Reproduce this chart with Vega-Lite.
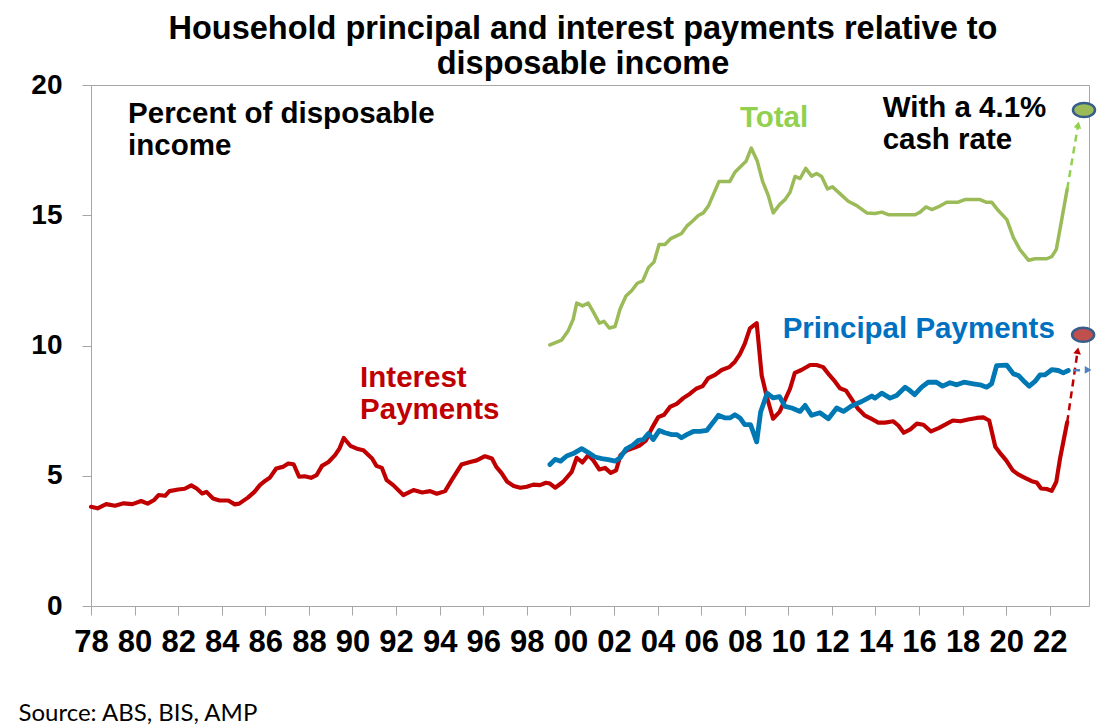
{
  "$schema": "https://vega.github.io/schema/vega-lite/v6.json",
  "width": 998,
  "height": 521,
  "autosize": {"type": "none"},
  "padding": {"left": 91, "top": 85, "right": 24, "bottom": 122},
  "title": {
    "text": ["Household principal and interest payments relative to", "disposable income"],
    "font": "Liberation Sans",
    "fontSize": 32.5,
    "fontWeight": "bold",
    "color": "#000000",
    "lineHeight": 35,
    "anchor": "middle",
    "frame": "group",
    "dx": -7,
    "offset": -9
  },
  "datasets": {
    "hist": [
      {"series": "Interest", "year": 1978.0, "value": 3.81},
      {"series": "Interest", "year": 1978.3, "value": 3.75},
      {"series": "Interest", "year": 1978.7, "value": 3.91},
      {"series": "Interest", "year": 1979.1, "value": 3.85},
      {"series": "Interest", "year": 1979.5, "value": 3.94},
      {"series": "Interest", "year": 1979.9, "value": 3.91},
      {"series": "Interest", "year": 1980.3, "value": 4.03},
      {"series": "Interest", "year": 1980.6, "value": 3.93},
      {"series": "Interest", "year": 1980.9, "value": 4.07},
      {"series": "Interest", "year": 1981.1, "value": 4.26},
      {"series": "Interest", "year": 1981.4, "value": 4.23},
      {"series": "Interest", "year": 1981.6, "value": 4.41},
      {"series": "Interest", "year": 1982.0, "value": 4.47},
      {"series": "Interest", "year": 1982.3, "value": 4.5},
      {"series": "Interest", "year": 1982.6, "value": 4.63},
      {"series": "Interest", "year": 1982.85, "value": 4.51},
      {"series": "Interest", "year": 1983.1, "value": 4.32},
      {"series": "Interest", "year": 1983.3, "value": 4.38},
      {"series": "Interest", "year": 1983.6, "value": 4.13},
      {"series": "Interest", "year": 1983.9, "value": 4.05},
      {"series": "Interest", "year": 1984.3, "value": 4.05},
      {"series": "Interest", "year": 1984.6, "value": 3.9},
      {"series": "Interest", "year": 1984.8, "value": 3.93},
      {"series": "Interest", "year": 1985.2, "value": 4.16},
      {"series": "Interest", "year": 1985.5, "value": 4.38},
      {"series": "Interest", "year": 1985.75, "value": 4.64},
      {"series": "Interest", "year": 1986.0, "value": 4.81},
      {"series": "Interest", "year": 1986.2, "value": 4.92},
      {"series": "Interest", "year": 1986.5, "value": 5.28},
      {"series": "Interest", "year": 1986.8, "value": 5.34},
      {"series": "Interest", "year": 1987.05, "value": 5.47},
      {"series": "Interest", "year": 1987.3, "value": 5.44},
      {"series": "Interest", "year": 1987.55, "value": 4.96},
      {"series": "Interest", "year": 1987.8, "value": 4.98},
      {"series": "Interest", "year": 1988.1, "value": 4.92},
      {"series": "Interest", "year": 1988.35, "value": 5.02},
      {"series": "Interest", "year": 1988.6, "value": 5.38},
      {"series": "Interest", "year": 1988.9, "value": 5.53},
      {"series": "Interest", "year": 1989.2, "value": 5.79},
      {"series": "Interest", "year": 1989.4, "value": 6.04},
      {"series": "Interest", "year": 1989.6, "value": 6.45},
      {"series": "Interest", "year": 1989.9, "value": 6.15},
      {"series": "Interest", "year": 1990.2, "value": 6.04},
      {"series": "Interest", "year": 1990.5, "value": 5.98},
      {"series": "Interest", "year": 1990.9, "value": 5.66},
      {"series": "Interest", "year": 1991.1, "value": 5.38},
      {"series": "Interest", "year": 1991.35, "value": 5.3},
      {"series": "Interest", "year": 1991.57, "value": 4.83},
      {"series": "Interest", "year": 1991.87, "value": 4.64},
      {"series": "Interest", "year": 1992.33, "value": 4.26},
      {"series": "Interest", "year": 1992.8, "value": 4.45},
      {"series": "Interest", "year": 1993.2, "value": 4.36},
      {"series": "Interest", "year": 1993.56, "value": 4.41},
      {"series": "Interest", "year": 1993.87, "value": 4.31},
      {"series": "Interest", "year": 1994.25, "value": 4.41},
      {"series": "Interest", "year": 1994.55, "value": 4.83},
      {"series": "Interest", "year": 1995.0, "value": 5.43},
      {"series": "Interest", "year": 1995.4, "value": 5.53},
      {"series": "Interest", "year": 1995.7, "value": 5.59},
      {"series": "Interest", "year": 1996.08, "value": 5.75},
      {"series": "Interest", "year": 1996.4, "value": 5.66},
      {"series": "Interest", "year": 1996.6, "value": 5.34},
      {"series": "Interest", "year": 1996.85, "value": 5.09},
      {"series": "Interest", "year": 1997.1, "value": 4.77},
      {"series": "Interest", "year": 1997.4, "value": 4.61},
      {"series": "Interest", "year": 1997.7, "value": 4.54},
      {"series": "Interest", "year": 1998.0, "value": 4.58},
      {"series": "Interest", "year": 1998.3, "value": 4.66},
      {"series": "Interest", "year": 1998.6, "value": 4.64},
      {"series": "Interest", "year": 1998.88, "value": 4.73},
      {"series": "Interest", "year": 1999.06, "value": 4.7},
      {"series": "Interest", "year": 1999.3, "value": 4.54},
      {"series": "Interest", "year": 1999.67, "value": 4.77},
      {"series": "Interest", "year": 2000.06, "value": 5.15},
      {"series": "Interest", "year": 2000.29, "value": 5.69},
      {"series": "Interest", "year": 2000.55, "value": 5.51},
      {"series": "Interest", "year": 2000.82, "value": 5.79},
      {"series": "Interest", "year": 2001.05, "value": 5.59},
      {"series": "Interest", "year": 2001.33, "value": 5.24},
      {"series": "Interest", "year": 2001.59, "value": 5.3},
      {"series": "Interest", "year": 2001.85, "value": 5.11},
      {"series": "Interest", "year": 2002.1, "value": 5.21},
      {"series": "Interest", "year": 2002.3, "value": 5.79},
      {"series": "Interest", "year": 2002.6, "value": 5.98},
      {"series": "Interest", "year": 2002.92, "value": 6.07},
      {"series": "Interest", "year": 2003.2, "value": 6.17},
      {"series": "Interest", "year": 2003.47, "value": 6.36},
      {"series": "Interest", "year": 2003.73, "value": 6.81},
      {"series": "Interest", "year": 2004.03, "value": 7.25},
      {"series": "Interest", "year": 2004.3, "value": 7.34},
      {"series": "Interest", "year": 2004.57, "value": 7.64},
      {"series": "Interest", "year": 2004.88, "value": 7.76},
      {"series": "Interest", "year": 2005.18, "value": 7.98},
      {"series": "Interest", "year": 2005.49, "value": 8.15},
      {"series": "Interest", "year": 2005.77, "value": 8.34},
      {"series": "Interest", "year": 2006.07, "value": 8.44},
      {"series": "Interest", "year": 2006.33, "value": 8.75},
      {"series": "Interest", "year": 2006.64, "value": 8.87},
      {"series": "Interest", "year": 2006.94, "value": 9.06},
      {"series": "Interest", "year": 2007.29, "value": 9.17},
      {"series": "Interest", "year": 2007.55, "value": 9.38},
      {"series": "Interest", "year": 2007.78, "value": 9.67},
      {"series": "Interest", "year": 2008.0, "value": 10.06},
      {"series": "Interest", "year": 2008.24, "value": 10.66},
      {"series": "Interest", "year": 2008.55, "value": 10.86},
      {"series": "Interest", "year": 2008.78, "value": 8.85},
      {"series": "Interest", "year": 2009.0, "value": 8.08},
      {"series": "Interest", "year": 2009.3, "value": 7.19},
      {"series": "Interest", "year": 2009.6, "value": 7.45},
      {"series": "Interest", "year": 2010.08, "value": 8.34},
      {"series": "Interest", "year": 2010.3, "value": 8.95},
      {"series": "Interest", "year": 2010.6, "value": 9.06},
      {"series": "Interest", "year": 2011.0, "value": 9.25},
      {"series": "Interest", "year": 2011.3, "value": 9.25},
      {"series": "Interest", "year": 2011.6, "value": 9.17},
      {"series": "Interest", "year": 2011.9, "value": 8.85},
      {"series": "Interest", "year": 2012.14, "value": 8.62},
      {"series": "Interest", "year": 2012.37, "value": 8.36},
      {"series": "Interest", "year": 2012.65, "value": 8.27},
      {"series": "Interest", "year": 2012.9, "value": 7.95},
      {"series": "Interest", "year": 2013.2, "value": 7.57},
      {"series": "Interest", "year": 2013.5, "value": 7.32},
      {"series": "Interest", "year": 2013.8, "value": 7.19},
      {"series": "Interest", "year": 2014.13, "value": 7.04},
      {"series": "Interest", "year": 2014.44, "value": 7.04},
      {"series": "Interest", "year": 2014.82, "value": 7.09},
      {"series": "Interest", "year": 2015.05, "value": 6.93},
      {"series": "Interest", "year": 2015.3, "value": 6.65},
      {"series": "Interest", "year": 2015.6, "value": 6.78},
      {"series": "Interest", "year": 2015.9, "value": 7.0},
      {"series": "Interest", "year": 2016.2, "value": 6.96},
      {"series": "Interest", "year": 2016.55, "value": 6.7},
      {"series": "Interest", "year": 2016.9, "value": 6.83},
      {"series": "Interest", "year": 2017.2, "value": 6.96},
      {"series": "Interest", "year": 2017.55, "value": 7.12},
      {"series": "Interest", "year": 2017.9, "value": 7.09},
      {"series": "Interest", "year": 2018.25, "value": 7.16},
      {"series": "Interest", "year": 2018.65, "value": 7.22},
      {"series": "Interest", "year": 2018.95, "value": 7.24},
      {"series": "Interest", "year": 2019.22, "value": 7.12},
      {"series": "Interest", "year": 2019.5, "value": 6.11},
      {"series": "Interest", "year": 2019.7, "value": 5.89},
      {"series": "Interest", "year": 2020.0, "value": 5.59},
      {"series": "Interest", "year": 2020.3, "value": 5.21},
      {"series": "Interest", "year": 2020.55, "value": 5.05},
      {"series": "Interest", "year": 2020.86, "value": 4.92},
      {"series": "Interest", "year": 2021.17, "value": 4.79},
      {"series": "Interest", "year": 2021.4, "value": 4.74},
      {"series": "Interest", "year": 2021.6, "value": 4.51},
      {"series": "Interest", "year": 2021.86, "value": 4.49},
      {"series": "Interest", "year": 2022.09, "value": 4.42},
      {"series": "Interest", "year": 2022.3, "value": 4.77},
      {"series": "Interest", "year": 2022.47, "value": 5.66},
      {"series": "Interest", "year": 2022.65, "value": 6.42},
      {"series": "Interest", "year": 2022.8, "value": 7.06},
      {"series": "Principal", "year": 1999.06, "value": 5.43},
      {"series": "Principal", "year": 1999.3, "value": 5.63},
      {"series": "Principal", "year": 1999.55, "value": 5.56},
      {"series": "Principal", "year": 1999.83, "value": 5.76},
      {"series": "Principal", "year": 2000.13, "value": 5.85},
      {"series": "Principal", "year": 2000.52, "value": 6.04},
      {"series": "Principal", "year": 2000.82, "value": 5.89},
      {"series": "Principal", "year": 2001.13, "value": 5.72},
      {"series": "Principal", "year": 2001.44, "value": 5.66},
      {"series": "Principal", "year": 2001.74, "value": 5.62},
      {"series": "Principal", "year": 2002.05, "value": 5.56},
      {"series": "Principal", "year": 2002.28, "value": 5.69},
      {"series": "Principal", "year": 2002.55, "value": 6.02},
      {"series": "Principal", "year": 2002.86, "value": 6.17},
      {"series": "Principal", "year": 2003.12, "value": 6.36},
      {"series": "Principal", "year": 2003.35, "value": 6.39},
      {"series": "Principal", "year": 2003.58, "value": 6.62},
      {"series": "Principal", "year": 2003.8, "value": 6.39},
      {"series": "Principal", "year": 2004.08, "value": 6.74},
      {"series": "Principal", "year": 2004.34, "value": 6.65},
      {"series": "Principal", "year": 2004.65, "value": 6.58},
      {"series": "Principal", "year": 2004.88, "value": 6.58},
      {"series": "Principal", "year": 2005.1, "value": 6.46},
      {"series": "Principal", "year": 2005.34, "value": 6.58},
      {"series": "Principal", "year": 2005.64, "value": 6.7},
      {"series": "Principal", "year": 2005.95, "value": 6.7},
      {"series": "Principal", "year": 2006.26, "value": 6.74},
      {"series": "Principal", "year": 2006.56, "value": 7.06},
      {"series": "Principal", "year": 2006.79, "value": 7.32},
      {"series": "Principal", "year": 2007.1, "value": 7.22},
      {"series": "Principal", "year": 2007.32, "value": 7.22},
      {"series": "Principal", "year": 2007.55, "value": 7.34},
      {"series": "Principal", "year": 2007.78, "value": 7.22},
      {"series": "Principal", "year": 2008.0, "value": 6.96},
      {"series": "Principal", "year": 2008.27, "value": 6.96},
      {"series": "Principal", "year": 2008.55, "value": 6.3},
      {"series": "Principal", "year": 2008.73, "value": 7.45},
      {"series": "Principal", "year": 2009.03, "value": 8.17},
      {"series": "Principal", "year": 2009.3, "value": 7.99},
      {"series": "Principal", "year": 2009.6, "value": 8.04},
      {"series": "Principal", "year": 2009.85, "value": 7.66},
      {"series": "Principal", "year": 2010.16, "value": 7.6},
      {"series": "Principal", "year": 2010.54, "value": 7.47},
      {"series": "Principal", "year": 2010.77, "value": 7.7},
      {"series": "Principal", "year": 2011.07, "value": 7.32},
      {"series": "Principal", "year": 2011.45, "value": 7.42},
      {"series": "Principal", "year": 2011.84, "value": 7.19},
      {"series": "Principal", "year": 2012.22, "value": 7.6},
      {"series": "Principal", "year": 2012.53, "value": 7.47},
      {"series": "Principal", "year": 2012.9, "value": 7.68},
      {"series": "Principal", "year": 2013.37, "value": 7.85},
      {"series": "Principal", "year": 2013.83, "value": 8.06},
      {"series": "Principal", "year": 2013.98, "value": 7.98},
      {"series": "Principal", "year": 2014.29, "value": 8.17},
      {"series": "Principal", "year": 2014.67, "value": 7.98},
      {"series": "Principal", "year": 2014.97, "value": 8.08},
      {"series": "Principal", "year": 2015.36, "value": 8.4},
      {"series": "Principal", "year": 2015.58, "value": 8.27},
      {"series": "Principal", "year": 2015.8, "value": 8.11},
      {"series": "Principal", "year": 2016.12, "value": 8.4},
      {"series": "Principal", "year": 2016.42, "value": 8.59},
      {"series": "Principal", "year": 2016.8, "value": 8.59},
      {"series": "Principal", "year": 2017.08, "value": 8.44},
      {"series": "Principal", "year": 2017.42, "value": 8.57},
      {"series": "Principal", "year": 2017.73, "value": 8.49},
      {"series": "Principal", "year": 2018.06, "value": 8.59},
      {"series": "Principal", "year": 2018.49, "value": 8.53},
      {"series": "Principal", "year": 2018.8, "value": 8.49},
      {"series": "Principal", "year": 2019.1, "value": 8.4},
      {"series": "Principal", "year": 2019.33, "value": 8.53},
      {"series": "Principal", "year": 2019.56, "value": 9.23},
      {"series": "Principal", "year": 2020.02, "value": 9.25},
      {"series": "Principal", "year": 2020.33, "value": 8.91},
      {"series": "Principal", "year": 2020.56, "value": 8.85},
      {"series": "Principal", "year": 2020.79, "value": 8.65},
      {"series": "Principal", "year": 2021.06, "value": 8.44},
      {"series": "Principal", "year": 2021.32, "value": 8.62},
      {"series": "Principal", "year": 2021.55, "value": 8.87},
      {"series": "Principal", "year": 2021.78, "value": 8.87},
      {"series": "Principal", "year": 2022.09, "value": 9.07},
      {"series": "Principal", "year": 2022.39, "value": 9.04},
      {"series": "Principal", "year": 2022.62, "value": 8.95},
      {"series": "Principal", "year": 2022.85, "value": 9.04},
      {"series": "Total", "year": 1999.06, "value": 10.02},
      {"series": "Total", "year": 1999.6, "value": 10.21},
      {"series": "Total", "year": 1999.9, "value": 10.57},
      {"series": "Total", "year": 2000.13, "value": 11.01},
      {"series": "Total", "year": 2000.29, "value": 11.63},
      {"series": "Total", "year": 2000.56, "value": 11.52},
      {"series": "Total", "year": 2000.82, "value": 11.63},
      {"series": "Total", "year": 2001.05, "value": 11.29},
      {"series": "Total", "year": 2001.33, "value": 10.86},
      {"series": "Total", "year": 2001.54, "value": 10.93},
      {"series": "Total", "year": 2001.79, "value": 10.67},
      {"series": "Total", "year": 2002.05, "value": 10.73},
      {"series": "Total", "year": 2002.28, "value": 11.4},
      {"series": "Total", "year": 2002.55, "value": 11.9},
      {"series": "Total", "year": 2002.81, "value": 12.1},
      {"series": "Total", "year": 2003.07, "value": 12.39},
      {"series": "Total", "year": 2003.32, "value": 12.48},
      {"series": "Total", "year": 2003.58, "value": 12.99},
      {"series": "Total", "year": 2003.84, "value": 13.21},
      {"series": "Total", "year": 2004.07, "value": 13.88},
      {"series": "Total", "year": 2004.34, "value": 13.88},
      {"series": "Total", "year": 2004.6, "value": 14.1},
      {"series": "Total", "year": 2004.85, "value": 14.2},
      {"series": "Total", "year": 2005.1, "value": 14.3},
      {"series": "Total", "year": 2005.34, "value": 14.58},
      {"series": "Total", "year": 2005.6, "value": 14.77},
      {"series": "Total", "year": 2005.87, "value": 14.99},
      {"series": "Total", "year": 2006.1, "value": 15.09},
      {"series": "Total", "year": 2006.33, "value": 15.35},
      {"series": "Total", "year": 2006.56, "value": 15.79},
      {"series": "Total", "year": 2006.82, "value": 16.3},
      {"series": "Total", "year": 2007.06, "value": 16.3},
      {"series": "Total", "year": 2007.32, "value": 16.3},
      {"series": "Total", "year": 2007.55, "value": 16.65},
      {"series": "Total", "year": 2007.78, "value": 16.84},
      {"series": "Total", "year": 2008.06, "value": 17.07},
      {"series": "Total", "year": 2008.3, "value": 17.58},
      {"series": "Total", "year": 2008.58, "value": 17.07},
      {"series": "Total", "year": 2008.82, "value": 16.3},
      {"series": "Total", "year": 2009.08, "value": 15.76},
      {"series": "Total", "year": 2009.31, "value": 15.09},
      {"series": "Total", "year": 2009.59, "value": 15.4},
      {"series": "Total", "year": 2009.85, "value": 15.6},
      {"series": "Total", "year": 2010.08, "value": 15.88},
      {"series": "Total", "year": 2010.31, "value": 16.49},
      {"series": "Total", "year": 2010.54, "value": 16.41},
      {"series": "Total", "year": 2010.8, "value": 16.8},
      {"series": "Total", "year": 2011.07, "value": 16.5},
      {"series": "Total", "year": 2011.3, "value": 16.6},
      {"series": "Total", "year": 2011.53, "value": 16.49},
      {"series": "Total", "year": 2011.8, "value": 16.01},
      {"series": "Total", "year": 2012.03, "value": 16.09},
      {"series": "Total", "year": 2012.37, "value": 15.83},
      {"series": "Total", "year": 2012.75, "value": 15.54},
      {"series": "Total", "year": 2013.14, "value": 15.37},
      {"series": "Total", "year": 2013.6, "value": 15.09},
      {"series": "Total", "year": 2013.98, "value": 15.07},
      {"series": "Total", "year": 2014.29, "value": 15.12},
      {"series": "Total", "year": 2014.59, "value": 15.02},
      {"series": "Total", "year": 2015.13, "value": 15.02},
      {"series": "Total", "year": 2015.82, "value": 15.02},
      {"series": "Total", "year": 2016.05, "value": 15.12},
      {"series": "Total", "year": 2016.32, "value": 15.32},
      {"series": "Total", "year": 2016.58, "value": 15.22},
      {"series": "Total", "year": 2016.88, "value": 15.32},
      {"series": "Total", "year": 2017.27, "value": 15.5},
      {"series": "Total", "year": 2017.8, "value": 15.5},
      {"series": "Total", "year": 2018.1, "value": 15.6},
      {"series": "Total", "year": 2018.8, "value": 15.6},
      {"series": "Total", "year": 2019.07, "value": 15.5},
      {"series": "Total", "year": 2019.33, "value": 15.5},
      {"series": "Total", "year": 2019.64, "value": 15.18},
      {"series": "Total", "year": 2020.03, "value": 14.83},
      {"series": "Total", "year": 2020.33, "value": 14.14},
      {"series": "Total", "year": 2020.63, "value": 13.68},
      {"series": "Total", "year": 2021.03, "value": 13.27},
      {"series": "Total", "year": 2021.32, "value": 13.33},
      {"series": "Total", "year": 2021.86, "value": 13.33},
      {"series": "Total", "year": 2022.09, "value": 13.41},
      {"series": "Total", "year": 2022.3, "value": 13.69},
      {"series": "Total", "year": 2022.55, "value": 14.84},
      {"series": "Total", "year": 2022.8, "value": 16.01}
    ],
    "proj": [
      {"series": "Interest", "part": "start", "year": 2022.8, "value": 7.06},
      {"series": "Interest", "part": "end", "year": 2023.28, "value": 9.8},
      {"series": "Total", "part": "start", "year": 2022.8, "value": 16.01},
      {"series": "Total", "part": "end", "year": 2023.3, "value": 18.47},
      {"series": "Principal", "part": "start", "year": 2023.07, "value": 9.05},
      {"series": "Principal", "part": "end", "year": 2023.76, "value": 9.06}
    ],
    "dots": [
      {"series": "Total", "year": 2023.57, "value": 19.04},
      {"series": "Interest", "year": 2023.53, "value": 10.41}
    ],
    "notes": [
      {"series": "Note", "label": "Percent of disposable\nincome", "year": 1979.7, "value": 18.55},
      {"series": "Total", "label": "Total", "year": 2007.78, "value": 18.39},
      {"series": "Note", "label": "With a 4.1%\ncash rate", "year": 2014.33, "value": 18.79},
      {"series": "Interest", "label": "Interest\nPayments", "year": 1990.35, "value": 8.4},
      {"series": "Principal", "label": "Principal Payments", "year": 2009.74, "value": 10.28}
    ]
  },
  "encoding": {
    "x": {
      "field": "year",
      "type": "quantitative",
      "scale": {"domain": [1978, 2023.8], "nice": false, "zero": false},
      "axis": {
        "values": [1978, 1980, 1982, 1984, 1986, 1988, 1990, 1992, 1994, 1996, 1998, 2000, 2002, 2004, 2006, 2008, 2010, 2012, 2014, 2016, 2018, 2020, 2022],
        "format": "d",
        "labelExpr": "substring(datum.label, 2)",
        "grid": false,
        "labelFont": "Liberation Sans",
        "labelFontWeight": "bold",
        "labelFontSize": 31,
        "labelColor": "#000000",
        "labelPadding": 12,
        "labelFlush": false,
        "labelOverlap": false,
        "tickSize": 9,
        "tickColor": "#A6A6A6",
        "domainColor": "#A6A6A6",
        "title": "Source: ABS, BIS, AMP",
        "titleFont": "Lato",
        "titleFontWeight": "normal",
        "titleFontSize": 24,
        "titleColor": "#000000",
        "titleAnchor": "start",
        "titleAlign": "left",
        "titleBaseline": "alphabetic",
        "titleX": -73,
        "titleY": 114
      }
    },
    "y": {
      "field": "value",
      "type": "quantitative",
      "scale": {"domain": [0, 20], "nice": false},
      "axis": {
        "values": [0, 5, 10, 15, 20],
        "grid": false,
        "labelFont": "Liberation Sans",
        "labelFontWeight": "bold",
        "labelFontSize": 28,
        "labelColor": "#000000",
        "labelPadding": 20,
        "tickSize": 9,
        "tickColor": "#A6A6A6",
        "domainColor": "#A6A6A6",
        "title": null
      }
    }
  },
  "layer": [
    {
      "data": {"name": "hist"},
      "mark": {"type": "line", "strokeCap": "round", "strokeJoin": "round"},
      "encoding": {
        "color": {
          "field": "series",
          "type": "nominal",
          "scale": {"domain": ["Total", "Interest", "Principal"], "range": ["#9BBB59", "#C00000", "#0078B4"]},
          "legend": null
        },
        "strokeWidth": {
          "field": "series",
          "type": "nominal",
          "scale": {"domain": ["Total", "Interest", "Principal"], "range": [3.5, 4.8, 4.4]},
          "legend": null
        }
      }
    },
    {
      "data": {"name": "proj"},
      "mark": {"type": "line", "strokeDash": [7, 5], "strokeWidth": 2.5},
      "encoding": {
        "color": {
          "field": "series",
          "type": "nominal",
          "scale": {"domain": ["Total", "Interest", "Principal"], "range": ["#92D050", "#C00000", "#4F81BD"]},
          "legend": null
        }
      }
    },
    {
      "data": {"name": "proj"},
      "transform": [{"filter": "datum.part == 'end' && datum.series == 'Interest'"}],
      "mark": {"type": "point", "shape": "triangle-up", "filled": true, "opacity": 1, "size": 60, "angle": 10, "color": "#C00000"}
    },
    {
      "data": {"name": "proj"},
      "transform": [{"filter": "datum.part == 'end' && datum.series == 'Total'"}],
      "mark": {"type": "point", "shape": "triangle-up", "filled": true, "opacity": 1, "size": 60, "angle": 12, "color": "#92D050"}
    },
    {
      "data": {"name": "proj"},
      "transform": [{"filter": "datum.part == 'end' && datum.series == 'Principal'"}],
      "mark": {"type": "point", "shape": "triangle-up", "filled": true, "opacity": 1, "size": 60, "angle": 90, "color": "#4F81BD"}
    },
    {
      "data": {"name": "dots"},
      "transform": [{"filter": "datum.series == 'Total'"}],
      "mark": {"type": "point", "shape": "M-1,0A1,0.64,0,1,1,1,0A1,0.64,0,1,1,-1,0Z", "size": 484, "filled": true, "opacity": 1, "fill": "#9BBB59", "stroke": "#385D8A", "strokeWidth": 2.5}
    },
    {
      "data": {"name": "dots"},
      "transform": [{"filter": "datum.series == 'Interest'"}],
      "mark": {"type": "point", "shape": "M-1,0A1,0.64,0,1,1,1,0A1,0.64,0,1,1,-1,0Z", "size": 484, "filled": true, "opacity": 1, "fill": "#C0504D", "stroke": "#385D8A", "strokeWidth": 2.5}
    },
    {
      "data": {"name": "notes"},
      "mark": {"type": "text", "align": "left", "baseline": "alphabetic", "font": "Liberation Sans", "fontWeight": "bold", "fontSize": 29.5, "lineBreak": "\n", "lineHeight": 32},
      "encoding": {
        "text": {"field": "label"},
        "color": {
          "field": "series",
          "type": "nominal",
          "scale": {"domain": ["Total", "Interest", "Principal", "Note"], "range": ["#92D050", "#C00000", "#0070C0", "#000000"]},
          "legend": null
        }
      }
    }
  ],
  "resolve": {"scale": {"color": "independent", "strokeWidth": "independent"}},
  "config": {
    "view": {"stroke": "#A6A6A6", "strokeWidth": 1},
    "font": "Liberation Sans"
  }
}
